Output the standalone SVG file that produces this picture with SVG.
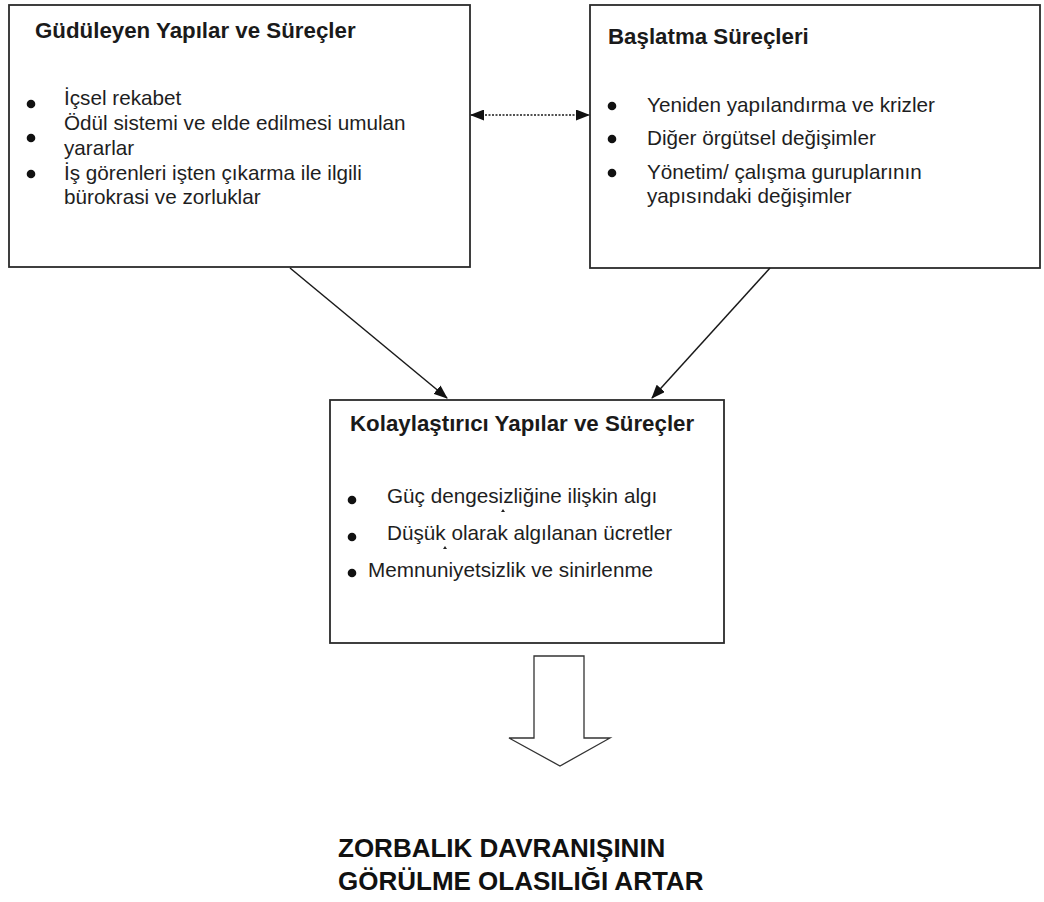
<svg xmlns="http://www.w3.org/2000/svg" width="1044" height="902" viewBox="0 0 1044 902">
  <style>
    .box { fill: #ffffff; stroke: #2b2b2b; stroke-width: 1.8; }
    .title { font-family: "Liberation Sans", Arial, sans-serif; font-size: 22.3px; font-weight: bold; fill: #1a1a1a; }
    .item { font-family: "Liberation Sans", Arial, sans-serif; font-size: 20.7px; fill: #1e1e1e; }
    .dot { fill: #111111; }
    .link { stroke: #1a1a1a; stroke-width: 1.5; fill: none; }
    .result { font-family: "Liberation Sans", Arial, sans-serif; font-size: 26px; font-weight: bold; fill: #111111; }
  </style>
  <defs>
    <marker id="head" viewBox="0 0 14 11" refX="13" refY="5.5" markerWidth="14" markerHeight="11" markerUnits="userSpaceOnUse" orient="auto-start-reverse">
      <path d="M0,0 L14,5.5 L0,11 z" fill="#111111"/>
    </marker>
  </defs>

  <rect width="1044" height="902" fill="#ffffff"/>

  <!-- motivating structures -->
  <g id="gudeleyen">
    <rect class="box" x="9" y="5" width="461" height="262"/>
    <text class="title" x="35" y="38">Güdüleyen Yapılar ve Süreçler</text>
    <circle class="dot" cx="31" cy="104" r="4.3"/>
    <circle class="dot" cx="31" cy="138" r="4.3"/>
    <circle class="dot" cx="31" cy="174" r="4.3"/>
    <text class="item" x="64" y="105">İçsel rekabet</text>
    <text class="item" x="64" y="130">Ödül sistemi ve elde edilmesi umulan</text>
    <text class="item" x="64" y="155">yararlar</text>
    <text class="item" x="64" y="180">İş görenleri işten çıkarma ile ilgili</text>
    <text class="item" x="64" y="204">bürokrasi ve zorluklar</text>
  </g>

  <!-- triggering processes -->
  <g id="baslatma">
    <rect class="box" x="590" y="5" width="450" height="263"/>
    <text class="title" x="608" y="44">Başlatma Süreçleri</text>
    <circle class="dot" cx="612" cy="106" r="4.3"/>
    <circle class="dot" cx="612" cy="139" r="4.3"/>
    <circle class="dot" cx="612" cy="173" r="4.3"/>
    <text class="item" x="647" y="112">Yeniden yapılandırma ve krizler</text>
    <text class="item" x="647" y="145">Diğer örgütsel değişimler</text>
    <text class="item" x="647" y="179">Yönetim/ çalışma guruplarının</text>
    <text class="item" x="647" y="203">yapısındaki değişimler</text>
  </g>

  <!-- facilitating structures -->
  <g id="kolaylastirici">
    <rect class="box" x="330" y="400" width="394" height="243"/>
    <text class="title" x="350" y="431">Kolaylaştırıcı Yapılar ve Süreçler</text>
    <circle class="dot" cx="352" cy="500" r="4.3"/>
    <circle class="dot" cx="352" cy="537" r="4.3"/>
    <circle class="dot" cx="352" cy="573" r="4.3"/>
    <text class="item" x="387" y="503">Güç dengesizliğine ilişkin algı</text>
    <text class="item" x="387" y="540">Düşük olarak algılanan ücretler</text>
    <text class="item" x="368" y="577">Memnuniyetsizlik ve sinirlenme</text>
    <path d="M501,512 l2,-3 l2,3 z" fill="#222222"/>
    <path d="M443,549 l2,-3 l2,3 z" fill="#222222"/>
  </g>

  <!-- outcome -->
  <g id="sonuc">
    <polygon points="534,656 584,656 584,738 610,738 560,766 509,738 534,738" fill="#ffffff" stroke="#333333" stroke-width="1.3"/>
    <text class="result" x="338" y="857">ZORBALIK DAVRANIŞININ</text>
    <text class="result" x="338" y="890">GÖRÜLME OLASILIĞI ARTAR</text>
  </g>

  <!-- connectors -->
  <g id="connectors">
    <line class="link" x1="471" y1="115" x2="589" y2="115" stroke-dasharray="2 1.5" marker-start="url(#head)" marker-end="url(#head)"/>
    <line class="link" x1="290" y1="268" x2="447" y2="398" marker-end="url(#head)"/>
    <line class="link" x1="770" y1="268" x2="652" y2="398" marker-end="url(#head)"/>
  </g>
</svg>
